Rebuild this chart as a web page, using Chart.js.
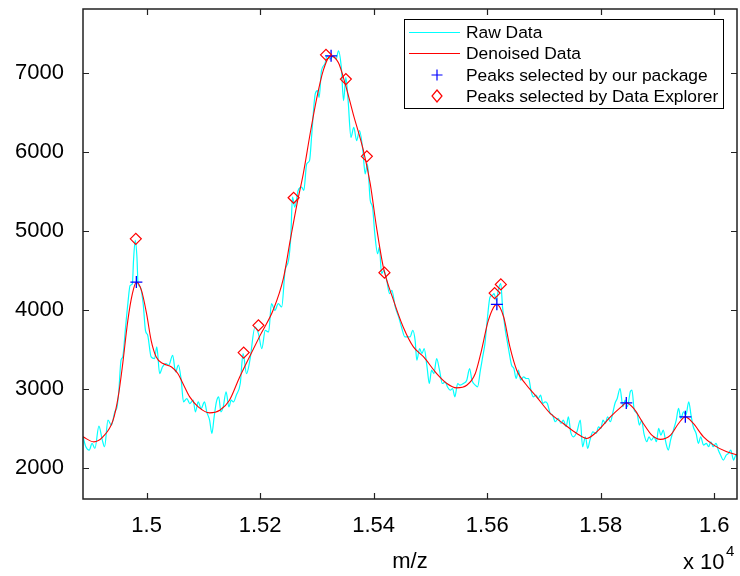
<!DOCTYPE html>
<html>
<head>
<meta charset="utf-8">
<script src="https://cdn.jsdelivr.net/npm/chart.js@4.4.0/dist/chart.umd.min.js"></script>
<style>
  body { margin: 0; background: #fff; }
  #wrap { width: 740px; height: 576px; }
</style>
</head>
<body>
<div id="wrap"><canvas id="peaksChart" width="740" height="576"></canvas></div>
<script>
// raw spectrum (m/z, intensity)
const rawMz = [
  14888, 14893, 14899, 14904, 14909, 14916, 14922, 14926, 14932, 14938, 14944, 14948, 14951, 14955, 14958,
  14963, 14967, 14971, 14975, 14977, 14980, 14983, 14985, 14989, 14994, 14998, 15002, 15008, 15014, 15018,
  15023, 15028, 15034, 15039, 15046, 15051, 15056, 15061, 15065, 15071, 15076, 15082, 15086, 15091, 15096,
  15102, 15106, 15111, 15115, 15119, 15123, 15127, 15131, 15135, 15140, 15145, 15149, 15153, 15158,
  15165, 15170, 15176, 15182, 15191, 15197, 15203, 15209, 15215, 15220, 15226, 15232, 15238, 15244, 15250,
  15254, 15257, 15261, 15267, 15273, 15277, 15282, 15287, 15291, 15297, 15301, 15304, 15308, 15314, 15318,
  15323, 15329, 15334, 15338, 15343, 15347, 15351, 15355, 15360, 15365, 15370, 15375, 15381, 15385, 15389,
  15394, 15398, 15402, 15407, 15410, 15414, 15418, 15423, 15428, 15432, 15438, 15444, 15449, 15455,
  15464, 15469, 15473, 15476, 15481, 15485, 15489, 15494, 15498, 15502, 15506, 15511, 15516, 15521, 15526,
  15530, 15535, 15539, 15543, 15548, 15552, 15558, 15564, 15569, 15573, 15579, 15583, 15588, 15592, 15596,
  15600, 15605, 15609, 15612, 15616, 15620, 15624, 15627, 15632, 15636, 15639, 15643, 15647, 15651, 15655,
  15659, 15664, 15669, 15673, 15677, 15681, 15686, 15690, 15694, 15698, 15702, 15706, 15711, 15715, 15720,
  15725, 15730, 15734, 15739, 15743, 15747, 15752, 15758,
  15764, 15768, 15773, 15777, 15781, 15786, 15792, 15796, 15800, 15804, 15808, 15812, 15817, 15821, 15825,
  15829, 15834, 15839, 15843, 15847, 15852, 15855, 15859, 15864, 15868, 15872, 15876, 15881, 15885, 15889,
  15894, 15898, 15902, 15906, 15910, 15915, 15919, 15923, 15928, 15933, 15937, 15941, 15946, 15950, 15955,
  15959, 15963, 15968, 15972, 15976, 15981, 15986, 15990, 15994, 15998, 16003, 16007, 16011, 16016, 16021,
  16025, 16029, 16034, 16038, 16041
];
const rawIntensity = [
  2399, 2273, 2231, 2315, 2252, 2534, 2357, 2273, 2609, 2546, 2714, 2777, 2967, 3366, 3408,
  3786, 4080, 4311, 4332, 4627, 4879, 4669, 4332, 4290, 4080, 3744, 3681, 3408, 3387, 3534,
  3198, 3282, 3324, 3303, 3429, 3219, 3303, 3114, 2840, 2882, 2819, 2861, 2714, 2840, 2756,
  2840, 2714, 2609, 2441, 2651, 2840, 2903, 2714, 2777, 2967, 2777, 2861, 2840, 2924,
  3072, 3450, 3198, 3366, 3786, 3702, 3513, 3744, 3723, 4081, 3997, 4081, 4039, 4501, 4627,
  4921, 5426, 5300, 5510, 5552, 5510, 5846, 5888, 6224, 6729, 6771, 6686, 7023, 7107, 7212,
  7170, 7212, 7170, 7275, 7065, 6644, 6939, 6644, 6182, 6308, 6140, 6266, 6014, 5720, 5846,
  5384, 5300, 4963, 4711, 4795, 4459, 4501, 4375, 4207, 4249, 4039, 3913, 3786, 3660,
  3660, 3744, 3618, 3366, 3513, 3450, 3513, 3282, 3072, 3240, 3198, 3387, 3240, 3072, 3093,
  3030, 2988, 3009, 2904, 3072, 3051, 3072, 3114, 3261, 3114, 3051, 3030, 3240, 3408, 3576,
  3870, 4165, 4186, 4207, 4123, 4270, 4333, 4039, 3744, 3576, 3450, 3303, 3261, 3135, 3240,
  3114, 3156, 3135, 3135, 2988, 2904, 2925, 2883, 2925, 2820, 2841, 2820, 2694, 2673, 2589,
  2631, 2568, 2610, 2526, 2652, 2462, 2399, 2462,
  2610, 2273, 2399, 2252, 2357, 2462, 2441, 2526, 2504, 2610, 2568, 2652, 2589, 2694, 2820,
  2883, 3009, 2778, 2862, 2778, 2967, 2988, 2736, 2694, 2547, 2610, 2441, 2336, 2399, 2357,
  2399, 2336, 2504, 2420, 2483, 2315, 2231, 2357, 2483, 2610, 2757, 2631, 2715, 2673, 2841,
  2673, 2526, 2441, 2315, 2399, 2294, 2315, 2273, 2336, 2273, 2315, 2231, 2168, 2105, 2168,
  2189, 2231, 2105, 2168, 2147
];

// denoised curve
const denoisedMz = [
  14888, 14907, 14923, 14941, 14950, 14958, 14967, 14975, 14982, 14991, 15000, 15008, 15017, 15029, 15044,
  15055, 15064, 15076, 15091, 15111, 15129, 15146, 15164, 15182, 15200, 15223, 15241, 15253, 15265, 15276,
  15288, 15300, 15311, 15324, 15338, 15350, 15364, 15382, 15394, 15405, 15417, 15435, 15452, 15470, 15488,
  15511, 15529, 15546, 15564, 15579, 15590, 15602, 15617, 15629, 15640, 15652, 15667, 15687, 15711, 15734,
  15758, 15775, 15793, 15817, 15836, 15845, 15858, 15875, 15890, 15905, 15923, 15937, 15949, 15963, 15981,
  15999, 16022, 16041
];
const denoisedIntensity = [
  2398, 2335, 2398, 2609, 2903, 3324, 3870, 4207, 4353, 4248, 3954, 3618, 3407, 3324, 3281,
  3198, 3072, 2903, 2777, 2701, 2735, 2861, 3155, 3420, 3680, 4000, 4400, 4879, 5342, 5720,
  6224, 6686, 7022, 7211, 7123, 6854, 6476, 6014, 5594, 5047, 4542, 4122, 3786, 3534, 3407,
  3198, 3072, 3017, 3050, 3198, 3492, 3870, 4072, 3912, 3534, 3240, 3072, 2903, 2694, 2567,
  2441, 2378, 2462, 2651, 2777, 2827, 2757, 2567, 2420, 2366, 2420, 2567, 2651, 2567, 2398,
  2294, 2209, 2168
];

// peaks picked by our package (+) and by Data Explorer (diamonds)
const ourPeaksMz = [14982, 15325, 15617, 15845, 15949];
const ourPeaksIntensity = [4353, 7211, 4072, 2827, 2651];
const explorerPeaksMz = [14981, 15171, 15197, 15259, 15316, 15351, 15388, 15419, 15613, 15624];
const explorerPeaksIntensity = [4900, 3463, 3807, 5418, 7224, 6918, 5942, 4472, 4214, 4324];

// axes
const xTicks = [15000, 15200, 15400, 15600, 15800, 16000];
const xTickLabels = ['1.5', '1.52', '1.54', '1.56', '1.58', '1.6'];
const yTicks = [2000, 3000, 4000, 5000, 6000, 7000];

const legendNames = ['Raw Data', 'Denoised Data', 'Peaks selected by our package', 'Peaks selected by Data Explorer'];

function pairs(xs, ys) {
  return xs.map((x, i) => ({ x: x, y: ys[i] }));
}

const FONT = '"Liberation Sans", Arial, Helvetica, sans-serif';

// box, inward ticks, legend and axis titles (matlab look)
const matlabFrame = {
  id: 'matlabFrame',
  afterDraw(chart) {
    const ctx = chart.ctx;
    const a = chart.chartArea;
    const xs = chart.scales.x;
    const ys = chart.scales.y;
    const tl = 6;
    ctx.save();
    ctx.strokeStyle = '#222';
    ctx.lineWidth = 1.5;
    ctx.strokeRect(a.left, a.top, a.right - a.left, a.bottom - a.top);
    ctx.lineWidth = 1.2;
    ctx.beginPath();
    xTicks.forEach(v => {
      const px = Math.round(xs.getPixelForValue(v)) + 0.5;
      ctx.moveTo(px, a.bottom); ctx.lineTo(px, a.bottom - tl);
      ctx.moveTo(px, a.top); ctx.lineTo(px, a.top + tl);
    });
    yTicks.forEach(v => {
      const py = Math.round(ys.getPixelForValue(v)) + 0.5;
      ctx.moveTo(a.left, py); ctx.lineTo(a.left + tl, py);
      ctx.moveTo(a.right, py); ctx.lineTo(a.right - tl, py);
    });
    ctx.stroke();

    // legend
    const lx = a.right - 333, ly = a.top + 10, lw = 319, lh = 89;
    ctx.fillStyle = '#fff';
    ctx.fillRect(lx, ly, lw, lh);
    ctx.strokeStyle = '#000';
    ctx.lineWidth = 1;
    ctx.strokeRect(lx + 0.5, ly + 0.5, lw, lh);
    const rows = [ly + 13, ly + 34, ly + 56, ly + 77];
    const sx0 = lx + 5, sx1 = lx + 56, mx = lx + 33;
    ctx.lineWidth = 1.2;
    ctx.strokeStyle = '#00ffff';
    ctx.beginPath(); ctx.moveTo(sx0, rows[0] + 0.5); ctx.lineTo(sx1, rows[0] + 0.5); ctx.stroke();
    ctx.strokeStyle = '#ff0000';
    ctx.beginPath(); ctx.moveTo(sx0, rows[1] + 0.5); ctx.lineTo(sx1, rows[1] + 0.5); ctx.stroke();
    ctx.strokeStyle = '#0000ff';
    ctx.lineWidth = 1.2;
    ctx.beginPath();
    ctx.moveTo(mx - 5.5, rows[2]); ctx.lineTo(mx + 5.5, rows[2]);
    ctx.moveTo(mx, rows[2] - 5.5); ctx.lineTo(mx, rows[2] + 5.5);
    ctx.stroke();
    ctx.strokeStyle = '#ff0000';
    ctx.lineWidth = 1.2;
    ctx.beginPath();
    ctx.moveTo(mx, rows[3] - 6); ctx.lineTo(mx + 5, rows[3]); ctx.lineTo(mx, rows[3] + 6); ctx.lineTo(mx - 5, rows[3]);
    ctx.closePath();
    ctx.stroke();
    ctx.fillStyle = '#000';
    ctx.font = '17.4px ' + FONT;
    ctx.textBaseline = 'middle';
    ctx.textAlign = 'left';
    legendNames.forEach((name, i) => ctx.fillText(name, lx + 62, rows[i] + 1));

    // axis title and exponent
    ctx.font = '22px ' + FONT;
    ctx.textAlign = 'center';
    ctx.textBaseline = 'middle';
    ctx.fillText('m/z', 410, 562);
    ctx.textAlign = 'left';
    ctx.textBaseline = 'alphabetic';
    ctx.fillText('x 10', 683, 569);
    ctx.font = '15px ' + FONT;
    ctx.fillText('4', 726, 556);
    ctx.restore();
  }
};

const ctx = document.getElementById('peaksChart').getContext('2d');
const peaksChart = new Chart(ctx, {
  type: 'line',
  data: {
    datasets: [
      {
        label: 'Peaks selected by Data Explorer',
        data: pairs(explorerPeaksMz, explorerPeaksIntensity),
        showLine: false,
        pointStyle: 'rectRot',
        pointRadius: 5.5,
        pointBorderColor: '#ff0000',
        pointBackgroundColor: 'rgba(0,0,0,0)',
        pointBorderWidth: 1.2,
        order: 0
      },
      {
        label: 'Peaks selected by our package',
        data: pairs(ourPeaksMz, ourPeaksIntensity),
        showLine: false,
        pointStyle: 'cross',
        pointRadius: 6,
        pointBorderColor: '#0000ff',
        pointBorderWidth: 1.3,
        order: 1
      },
      {
        label: 'Denoised Data',
        data: pairs(denoisedMz, denoisedIntensity),
        borderColor: '#ff0000',
        borderWidth: 1.1,
        pointRadius: 0,
        cubicInterpolationMode: 'monotone',
        order: 2
      },
      {
        label: 'Raw Data',
        data: pairs(rawMz, rawIntensity),
        borderColor: '#00ffff',
        borderWidth: 1.2,
        pointRadius: 0,
        cubicInterpolationMode: 'monotone',
        order: 3
      }
    ]
  },
  options: {
    responsive: false,
    animation: false,
    devicePixelRatio: 1,
    layout: { autoPadding: false, padding: { top: 9, right: 3, left: 0, bottom: 0 } },
    plugins: {
      legend: { display: false },
      tooltip: { enabled: false }
    },
    scales: {
      x: {
        type: 'linear',
        min: 14888,
        max: 16040,
        afterBuildTicks: s => { s.ticks = xTicks.map(v => ({ value: v })); },
        afterFit: s => { s.height = 77; s.paddingLeft = 0; s.paddingRight = 0; },
        grid: { display: false, drawTicks: false },
        border: { display: false },
        ticks: {
          padding: 14,
          color: '#000',
          font: { size: 22, family: FONT },
          maxRotation: 0,
          callback: v => xTickLabels[xTicks.indexOf(v)]
        }
      },
      y: {
        type: 'linear',
        min: 1613,
        max: 7803,
        afterBuildTicks: s => { s.ticks = yTicks.map(v => ({ value: v })); },
        afterFit: s => { s.width = 83; s.paddingTop = 0; s.paddingBottom = 0; },
        grid: { display: false, drawTicks: false },
        border: { display: false },
        ticks: {
          padding: 19,
          color: '#000',
          font: { size: 22, family: FONT },
          callback: v => String(v)
        }
      }
    }
  },
  plugins: [matlabFrame]
});
</script>
</body>
</html>
